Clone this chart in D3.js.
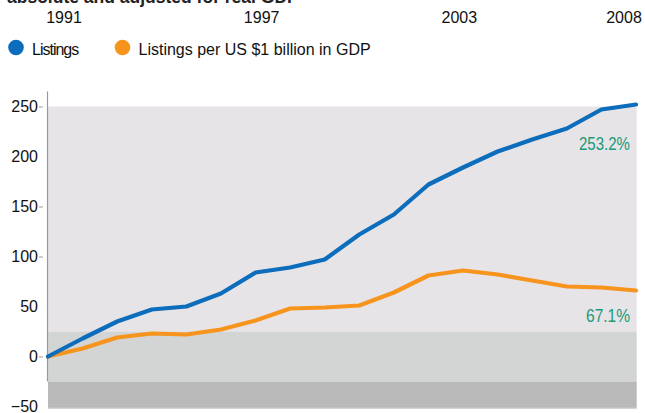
<!DOCTYPE html>
<html><head><meta charset="utf-8">
<script src="https://cdn.jsdelivr.net/npm/d3@7"></script>
<style>
html,body{margin:0;padding:0;background:#fff;}
svg{display:block;font-family:"Liberation Sans",Arial,sans-serif;}
</style></head>
<body><svg id="c" width="645" height="413"></svg>
<script>
const years = [1991,1992,1993,1994,1995,1996,1997,1998,1999,2000,2001,2002,2003,2004,2005,2006,2007,2008];
const listings = [0,18,35,47,50,63,84,89,97,122,142,172,189,205,217,228,247,252];
const perGDP = [0,8,19,23,22,27,36,48,49,51,64,81,86,82,76,70,69,66];
const yTicks = [250,200,150,100,50,0,-50];
const yTicksMarked = [250,150,100,0];
const topYears = [1991,1997,2003,2008];
const seriesNames = ["Listings","Listings per US $1 billion in GDP"];
const seriesColors = ["#0b6dbb","#f7941d"];
const endLabels = ["253.2%","67.1%"];
const bands = [{from:250,to:25,color:"#e6e4e7"},{from:25,to:-25,color:"#d3d4d4"},{from:-25,to:-51,color:"#b9b9ba"}];
const title = "absolute and adjusted for real GDP";

const svg = d3.select("#c");
const x = d3.scaleLinear().domain([1991,2008]).range([48,636]);
const y = d3.scaleLinear().domain([0,250]).range([356.5,106.5]);
const xTop = d3.scaleLinear().domain([1991,2008]).range([64,624]);

// title (cropped)
svg.append("text").attr("x",7).attr("y",3).attr("font-size",17.5).attr("font-weight","bold").attr("fill","#222").text(title);

// top year labels
svg.selectAll(".yr").data(topYears).enter().append("text")
  .attr("x",d=>xTop(d)).attr("y",23).attr("text-anchor","middle").attr("font-size",16).attr("fill","#111").text(d=>d);

// legend
const leg = svg.append("g");
const legX = [16,122.5];
seriesNames.forEach((n,i)=>{
  leg.append("circle").attr("cx",legX[i]).attr("cy",47.5).attr("r",7.8).attr("fill",seriesColors[i]);
  const t = leg.append("text").attr("x",legX[i]+16).attr("y",55).attr("font-size",16).attr("fill","#111").text(n);
  if(i===0) t.attr("letter-spacing","-1px");
});

// bands
svg.selectAll(".band").data(bands).enter().append("rect")
  .attr("x",x(1991)).attr("width",x(2008)-x(1991)+0.7)
  .attr("y",d=>y(d.from)).attr("height",d=>y(d.to)-y(d.from)).attr("fill",d=>d.color);
svg.append("line").attr("x1",x(1991)).attr("x2",x(2008)+0.7).attr("y1",y(-51)+0.5).attr("y2",y(-51)+0.5).attr("stroke","#a9a9a9").attr("stroke-width",1);

// y axis
const ax = svg.append("g").attr("transform","translate(47.5,0)")
  .call(d3.axisLeft(y).tickValues(yTicks).tickSize(0).tickPadding(9.5));
ax.select(".domain").remove();
ax.selectAll("text").attr("font-size",16).attr("fill","#111").attr("font-family","'Liberation Sans',Arial,sans-serif");
ax.selectAll(".tick").filter(d=>yTicksMarked.includes(d)).append("line")
  .attr("x1",-8.5).attr("x2",-4.5).attr("stroke","#999").attr("stroke-width",1);
svg.append("line").attr("x1",47.5).attr("x2",47.5).attr("y1",y(265)).attr("y2",y(-25)).attr("stroke","#9a9a9a").attr("stroke-width",1.2);

// lines
const line = d3.line().x((d,i)=>x(years[i])).y(d=>y(d));
[perGDP, listings].forEach((s,k)=>{
  const i = k===0?1:0;
  svg.append("path").datum(s).attr("d",line).attr("fill","none")
    .attr("stroke",seriesColors[i]).attr("stroke-width",4.2).attr("stroke-linejoin","round").attr("stroke-linecap","round");
});

// end labels
const endVals = [listings[listings.length-1], perGDP[perGDP.length-1]];
const endOff = [45.5, 31];
endLabels.forEach((l,i)=>{
  svg.append("text").attr("x",630).attr("y",y(endVals[i])+endOff[i]).attr("text-anchor","end")
    .attr("font-size",18).attr("fill","#1a9a78").attr("textLength",i===0?51:44).attr("lengthAdjust","spacingAndGlyphs").text(l);
});
</script>
</body></html>
